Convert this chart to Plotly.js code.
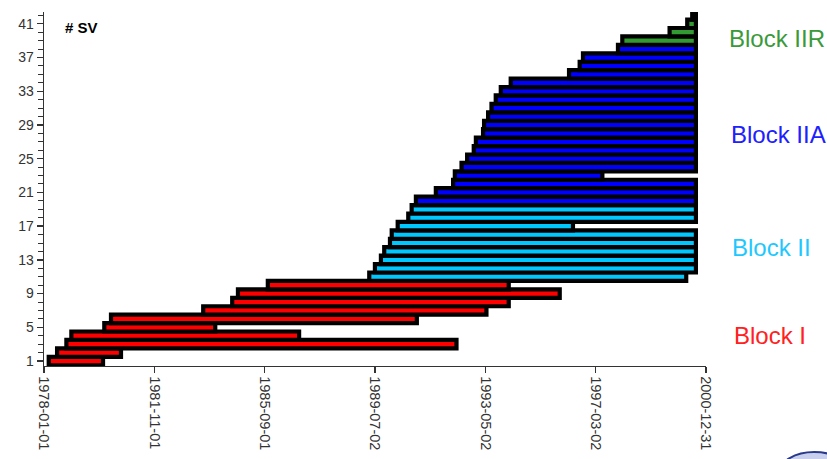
<!DOCTYPE html>
<html>
<head>
<meta charset="utf-8">
<script src="https://cdn.plot.ly/plotly-3.0.1.min.js"></script>
<style>html,body{margin:0;padding:0;background:#fff;}#chart{width:827px;height:459px;}</style>
</head>
<body>
<div id="chart"></div>
<script>
// ---- data ----
const ONGOING = '2000-08-25';

const blockI_sv    = [1, 2, 3, 4, 5, 6, 7, 8, 9, 10];
const blockI_start = ['1978-03-02','1978-06-16','1978-10-12','1978-12-14','1980-02-05','1980-04-30','1983-07-14','1984-07-16','1984-09-27','1985-10-11'];
const blockI_end   = ['1980-01-20','1980-09-04','1992-05-01','1986-11-12','1983-12-14','1990-12-15','1993-05-16','1994-02-23','1995-12-02','1994-02-23'];

const blockII_sv    = [11, 12, 13, 14, 15, 16, 17, 18, 19];
const blockII_start = ['1989-04-20','1989-07-01','1989-09-15','1989-10-27','1990-01-08','1990-01-30','1990-04-16','1990-08-28','1990-10-10'];
const blockII_end   = ['2000-04-24', ONGOING, ONGOING, ONGOING, ONGOING, ONGOING, '1996-05-18', ONGOING, ONGOING];

const blockIIA_sv    = [20, 21, 22, 23, 24, 25, 26, 27, 28, 29, 30, 31, 32, 33, 34, 35, 36, 37, 38];
const blockIIA_start = ['1990-12-03','1991-08-13','1992-03-19','1992-04-10','1992-07-04','1992-09-13','1992-12-06','1993-01-02','1993-04-03','1993-04-16','1993-06-06','1993-07-19','1993-09-11','1993-11-14','1994-03-20','1996-03-29','1996-08-11','1996-09-22','1997-12-10'];
const blockIIA_end   = [ONGOING, ONGOING, ONGOING, '1997-05-26', ONGOING, ONGOING, ONGOING, ONGOING, ONGOING, ONGOING, ONGOING, ONGOING, ONGOING, ONGOING, ONGOING, ONGOING, ONGOING, ONGOING, ONGOING];

const blockIIR_sv    = [39, 40, 41, 42];
const blockIIR_start = ['1998-02-03','1999-09-26','2000-05-07','2000-07-09'];
const blockIIR_end   = [ONGOING, ONGOING, ONGOING, ONGOING];

const xTickVals = ['1978-01-01','1981-11-01','1985-09-01','1989-07-02','1993-05-02','1997-03-02','2000-12-31'];
const yTickVals = [1, 5, 9, 13, 17, 21, 25, 29, 33, 37, 41];

const blockNames  = ['Block IIR', 'Block IIA', 'Block II', 'Block I'];

// ---- build ----
function dur(s, e) { return s.map((d, i) => Date.parse(e[i]) - Date.parse(d)); }
function barTrace(sv, start, end, color) {
  return {
    type: 'bar', orientation: 'h',
    y: sv, base: start, x: dur(start, end),
    width: 1,
    marker: { color: color, line: { color: '#000', width: 4.2 } },
    hoverinfo: 'skip', showlegend: false
  };
}

const traces = [
  barTrace(blockI_sv, blockI_start, blockI_end, '#ff0000'),
  barTrace(blockII_sv, blockII_start, blockII_end, '#00c8ff'),
  barTrace(blockIIA_sv, blockIIA_start, blockIIA_end, '#0000ff'),
  barTrace(blockIIR_sv, blockIIR_start, blockIIR_end, '#339933')
];

const labelFont = { family: 'Liberation Sans, Arial, sans-serif', size: 24 };
const layout = {
  width: 827, height: 459,
  margin: { l: 43.5, r: 120.5, t: 12, b: 93 },
  paper_bgcolor: '#fff', plot_bgcolor: '#fff',
  barmode: 'overlay', bargap: 0,
  xaxis: {
    type: 'date', range: ['1978-01-01', '2000-12-31'],
    tickvals: xTickVals, tickformat: '%Y-%m-%d', tickangle: 90,
    ticks: 'outside', ticklen: 6, tickcolor: '#333', tickwidth: 1.3,
    showline: true, linecolor: '#333', linewidth: 1.3,
    showgrid: false, zeroline: false,
    tickfont: { family: 'Liberation Sans, Arial, sans-serif', size: 14.5, color: '#333' }
  },
  yaxis: {
    range: [0.41, 42.4],
    tickvals: yTickVals,
    ticks: 'outside', ticklen: 6, tickcolor: '#333', tickwidth: 1.3,
    minor: { dtick: 1, tick0: 1, ticks: 'outside', ticklen: 5, tickcolor: '#333', tickwidth: 1, showgrid: false },
    showline: true, linecolor: '#333', linewidth: 1.3,
    showgrid: false, zeroline: false,
    tickfont: { family: 'Liberation Sans, Arial, sans-serif', size: 14, color: '#333' }
  },
  annotations: [
    { text: '<b># SV</b>', xref: 'paper', yref: 'paper', x: 0.028, y: 0.955, xanchor: 'left', yanchor: 'middle', showarrow: false,
      font: { family: 'Liberation Sans, Arial, sans-serif', size: 15, color: '#000' } },
    { text: blockNames[0], xref: 'paper', yref: 'paper', x: 1.031, y: 0.924, xanchor: 'left', yanchor: 'middle', showarrow: false,
      font: Object.assign({ color: '#3a9a3a' }, labelFont) },
    { text: blockNames[1], xref: 'paper', yref: 'paper', x: 1.034, y: 0.655, xanchor: 'left', yanchor: 'middle', showarrow: false,
      font: Object.assign({ color: '#2020ff' }, labelFont) },
    { text: blockNames[2], xref: 'paper', yref: 'paper', x: 1.037, y: 0.336, xanchor: 'left', yanchor: 'middle', showarrow: false,
      font: Object.assign({ color: '#1ec8ff' }, labelFont) },
    { text: blockNames[3], xref: 'paper', yref: 'paper', x: 1.040, y: 0.086, xanchor: 'left', yanchor: 'middle', showarrow: false,
      font: Object.assign({ color: '#ff2020' }, labelFont) }
  ],
  shapes: [
    { type: 'circle', xref: 'paper', yref: 'paper', x0: 1.111, x1: 1.216, y0: -0.243, y1: -0.36,
      line: { color: '#2a3a8a', width: 2 }, fillcolor: '#c8d0ee', layer: 'above' }
  ]
};

Plotly.newPlot('chart', traces, layout, { displayModeBar: false, staticPlot: true });
</script>
</body>
</html>
